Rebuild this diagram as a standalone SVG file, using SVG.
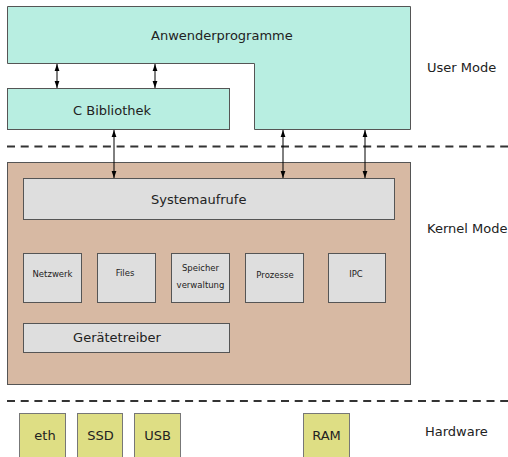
<svg xmlns="http://www.w3.org/2000/svg" width="508" height="457" viewBox="0 0 508 457">
<defs>
<marker id="ah" viewBox="0 0 7 6" refX="7" refY="3" markerWidth="7" markerHeight="6" markerUnits="userSpaceOnUse" orient="auto-start-reverse">
<path d="M0,0.6 L7,3 L0,5.4 Z" fill="#000"/>
</marker>
<style>
text{font-family:"DejaVu Sans","Liberation Sans",sans-serif;fill:#222}
.user{fill:#b8eee1;stroke:#555;stroke-width:1}
.kern{fill:#d7b9a3;stroke:#555;stroke-width:1}
.box{fill:#dedede;stroke:#555;stroke-width:1}
.hw{fill:#dede84;stroke:#777;stroke-width:1}
.t13{font-size:13px}
.t8{font-size:8.5px;text-anchor:middle}
.mid{text-anchor:middle}
.conn{stroke:#000;stroke-width:1;fill:none;marker-start:url(#ah);marker-end:url(#ah)}
.dash{stroke:#333;stroke-width:2;stroke-dasharray:8 5.7}
</style>
</defs>
<rect width="508" height="457" fill="#fff"/>
<line class="dash" x1="7" y1="146.5" x2="508" y2="146.5"/>
<line class="dash" x1="7" y1="401" x2="508" y2="401"/>
<g id="anwenderprogramme">
<path class="user" d="M7.5,6.5 H410.5 V129.5 H254.5 V63.5 H7.5 Z"/>
<text class="t13" x="151" y="40">Anwenderprogramme</text>
</g>
<g id="cbibliothek">
<rect class="user" x="7.5" y="88.5" width="222" height="41"/>
<text class="t13" x="73" y="115">C Bibliothek</text>
</g>
<g id="kernel">
<rect class="kern" x="7.5" y="162.5" width="403" height="222"/>
</g>
<g id="systemaufrufe">
<rect class="box" x="23.5" y="178.5" width="371" height="41"/>
<text class="t13" x="151" y="204">Systemaufrufe</text>
</g>
<g id="netzwerk">
<rect class="box" x="23.5" y="253.5" width="58" height="49"/>
<text class="t8" x="52.5" y="277">Netzwerk</text>
</g>
<g id="files">
<rect class="box" x="97.5" y="253.5" width="58" height="49"/>
<text class="t8" x="125" y="276">Files</text>
</g>
<g id="speicherverwaltung">
<rect class="box" x="171.5" y="253.5" width="58" height="49"/>
<text class="t8" x="200.5" y="271">Speicher</text>
<text class="t8" x="200.5" y="288">verwaltung</text>
</g>
<g id="prozesse">
<rect class="box" x="245.5" y="253.5" width="58" height="49"/>
<text class="t8" x="275" y="278">Prozesse</text>
</g>
<g id="ipc">
<rect class="box" x="328.5" y="253.5" width="57" height="49"/>
<text class="t8" x="356" y="277">IPC</text>
</g>
<g id="geraetetreiber">
<rect class="box" x="23.5" y="323.5" width="206" height="29"/>
<text class="t13 mid" x="117" y="342">Gerätetreiber</text>
</g>
<g id="eth">
<rect class="hw" x="19.5" y="413.5" width="46" height="50"/>
<text class="t13 mid" x="45" y="440">eth</text>
</g>
<g id="ssd">
<rect class="hw" x="77.5" y="413.5" width="45" height="50"/>
<text class="t13 mid" x="100.5" y="440">SSD</text>
</g>
<g id="usb">
<rect class="hw" x="134.5" y="413.5" width="46" height="50"/>
<text class="t13 mid" x="157.5" y="440">USB</text>
</g>
<g id="ram">
<rect class="hw" x="303.5" y="413.5" width="46" height="50"/>
<text class="t13 mid" x="326.5" y="440">RAM</text>
</g>
<g id="labels">
<text class="t13" x="427" y="72">User Mode</text>
<text class="t13" x="427" y="233">Kernel Mode</text>
<text class="t13" x="425" y="436">Hardware</text>
</g>
<g id="connectors">
<line class="conn" x1="57" y1="64" x2="57" y2="88"/>
<line class="conn" x1="155" y1="64" x2="155" y2="88"/>
<line class="conn" x1="114" y1="130" x2="114" y2="178"/>
<line class="conn" x1="283" y1="130" x2="283" y2="178"/>
<line class="conn" x1="365" y1="130" x2="365" y2="178"/>
</g>
</svg>
